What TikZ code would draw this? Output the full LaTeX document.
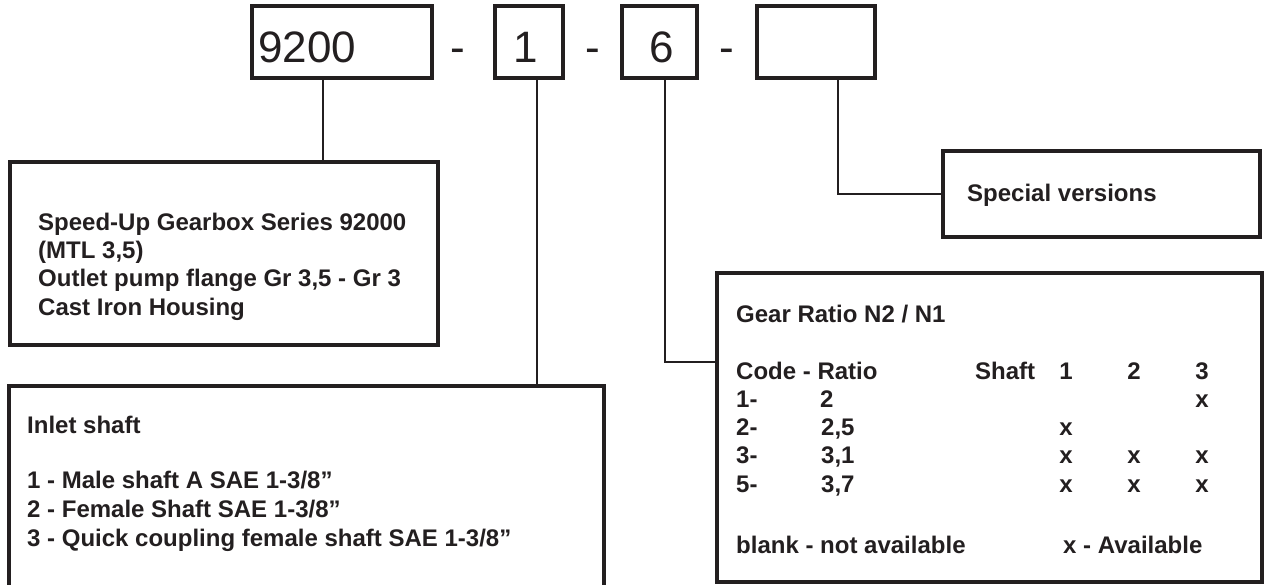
\documentclass[tikz,border=0pt]{standalone}
\usepackage{fontspec}
\setmainfont{Liberation Sans}
\definecolor{ink}{RGB}{35,31,32}
\tikzset{
  box/.style={draw=ink, line width=3.8pt, inner sep=0pt, outer sep=0pt, anchor=north west, rectangle},
  conn/.style={draw=ink, line width=1.8pt},
  big/.style={inner sep=0pt, anchor=base, text=ink, font=\fontsize{44}{50}\selectfont},
  txt/.style={inner sep=0pt, anchor=base west, text=ink, font=\fontsize{24}{28}\selectfont\bfseries},
  col/.style={inner sep=0pt, anchor=base, text=ink, font=\fontsize{24}{28}\selectfont\bfseries}
}
\begin{document}
\begin{tikzpicture}[x=1pt,y=-1pt]
\useasboundingbox (0,0) rectangle (1266,585);
\clip (0,0) rectangle (1266,585);
% top code boxes
\node[box, minimum width=180pt, minimum height=72pt] (b9200) at (252,6) {};
\node[box, minimum width=68pt, minimum height=72pt] (b1) at (495,6) {};
\node[box, minimum width=75pt, minimum height=72pt] (b6) at (622,6) {};
\node[box, minimum width=118pt, minimum height=72pt] (b4) at (757,6) {};
\node[big, anchor=base west] (t9200) at (258,63) {9200};
\node[big] (t1) at (526,63) {1};
\node[big] (t6) at (662,63) {6};
\node[big] (d1) at (458,63) {-};
\node[big] (d2) at (593,63) {-};
\node[big] (d3) at (727,63) {-};
% description boxes
\node[box, minimum width=428pt, minimum height=183pt] (boxA) at (10,162) {};
\node[box, minimum width=595pt, minimum height=214pt] (boxB) at (9,386) {};
\node[box, minimum width=545pt, minimum height=309pt] (boxC) at (717,273) {};
\node[box, minimum width=317pt, minimum height=86pt] (boxS) at (943,151) {};
% connectors
\coordinate (k1) at (323,0);
\coordinate (k2) at (537,0);
\coordinate (k3) at (665,362);
\coordinate (k4) at (838,194);
\draw[conn] (b9200.south -| k1) -- (boxA.north -| k1);
\draw[conn] (b1.south -| k2) -- (boxB.north -| k2);
\draw[conn] (b6.south -| k3) |- (k3 -| boxC.west);
\draw[conn] (b4.south -| k4) |- (boxS.west);
% box A text
\node[txt] (a1) at (38,231) {Speed-Up Gearbox Series 92000};
\node[txt] (a2) at (38,259) {(MTL 3,5)};
\node[txt] (a3) at (38,287) {Outlet pump flange Gr 3,5 - Gr 3};
\node[txt] (a4) at (38,316) {Cast Iron Housing};
% box B text
\node[txt] (i0) at (27,433) {Inlet shaft};
\node[txt] (i1) at (27,488) {1 - Male shaft A SAE 1-3/8”};
\node[txt] (i2) at (27,517) {2 - Female Shaft SAE 1-3/8”};
\node[txt] (i3) at (27,546) {3 - Quick coupling female shaft SAE 1-3/8”};
% special
\node[txt] (sv) at (967,202) {Special versions};
% box C text
\node[txt] (g0) at (736,322) {Gear Ratio N2 / N1};
\node[txt] (g1) at (736,379) {Code - Ratio};
\node[txt] (gs) at (975,379) {Shaft};
\node[col] (h1) at (1066,379) {1};
\node[col] (h2) at (1134,379) {2};
\node[col] (h3) at (1202,379) {3};
\node[txt] (r1c) at (736,407) {1-};
\node[txt] (r1r) at (820,407) {2};
\node[col] (r1x3) at (1202,407) {x};
\node[txt] (r2c) at (736,435) {2-};
\node[txt] (r2r) at (821,435) {2,5};
\node[col] (r2x1) at (1066,435) {x};
\node[txt] (r3c) at (736,463) {3-};
\node[txt] (r3r) at (821,463) {3,1};
\node[col] (r3x1) at (1066,463) {x};
\node[col] (r3x2) at (1134,463) {x};
\node[col] (r3x3) at (1202,463) {x};
\node[txt] (r5c) at (736,492) {5-};
\node[txt] (r5r) at (821,492) {3,7};
\node[col] (r5x1) at (1066,492) {x};
\node[col] (r5x2) at (1134,492) {x};
\node[col] (r5x3) at (1202,492) {x};
\node[txt] (bl) at (736,553) {blank - not available};
\node[txt] (av) at (1063,553) {x - Available};
\end{tikzpicture}
\end{document}
